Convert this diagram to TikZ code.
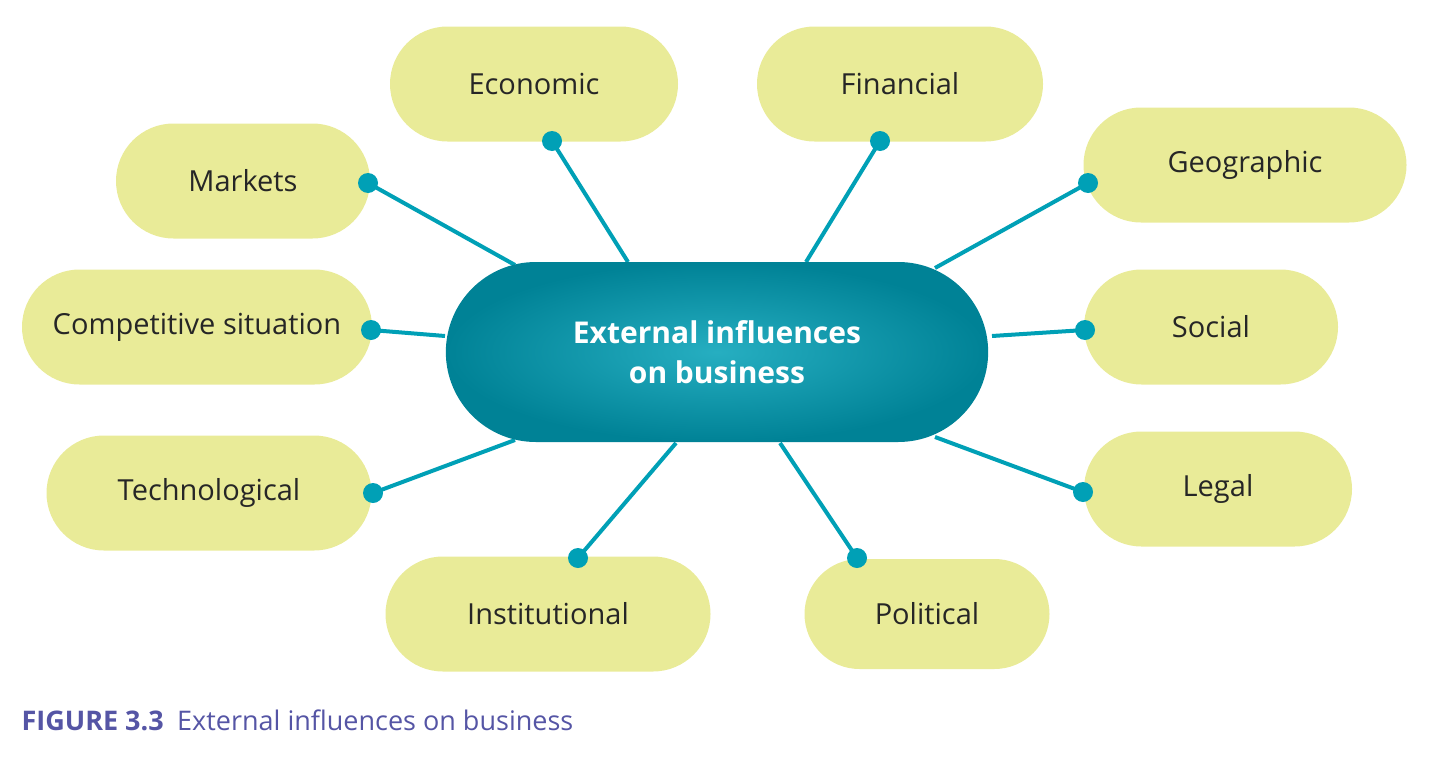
\documentclass[tikz,border=0pt]{standalone}
\usepackage{fontspec}
\setmainfont{Open Sans}
\usetikzlibrary{shapes.misc,backgrounds}
\definecolor{pill}{RGB}{233,235,152}
\definecolor{teal}{RGB}{0,160,182}
\definecolor{tealdark}{RGB}{0,130,150}
\definecolor{cap}{RGB}{85,85,165}
\begin{document}
\begin{tikzpicture}[x=1pt,y=-1pt,
 leaf/.style={rounded rectangle,fill=pill,minimum height=115pt,font=\fontsize{29}{34}\selectfont,text=black!85,inner sep=0pt},
 link/.style={draw=teal,line width=4pt},
 dot/.style={circle,fill=teal,inner sep=0pt,minimum size=20pt}]
\useasboundingbox (0,0) rectangle (1440,771);
\node[rounded rectangle,minimum width=549pt,minimum height=180pt,inner color=teal!85!white,outer color=tealdark,align=center,text=white,font=\fontsize{30}{40}\selectfont\bfseries] (c) at (717,352) {External influences\\on business};
\node[leaf,minimum width=288pt] (eco) at (534,84) {Economic};
\node[leaf,minimum width=286pt] (fin) at (900,84) {Financial};
\node[leaf,minimum width=254pt] (mkt) at (243,181) {Markets};
\node[leaf,minimum width=323pt] (geo) at (1245,165) {Geographic};
\node[leaf,minimum width=350pt] (comp) at (197,327) {Competitive situation};
\node[leaf,minimum width=254pt] (soc) at (1211,327) {Social};
\node[leaf,minimum width=325pt] (tech) at (209,493) {Technological};
\node[leaf,minimum width=268pt] (leg) at (1218,489) {Legal};
\node[leaf,minimum width=325pt] (inst) at (548,614) {Institutional};
\node[leaf,minimum width=245pt,minimum height=110pt] (pol) at (927,614) {Political};
\foreach \n/\x/\y in {d1/552/141,d2/880/141,d3/368/183,d4/1088/183,d5/371/330,d6/1085/330,d7/373/493,d8/1083/492,d9/578/558,d10/857/558}
  \node[dot] (\n) at (\x,\y) {};
\begin{scope}[on background layer]
\foreach \n/\x/\y in {d1/628/262,d2/806/262,d3/515/265,d4/935/268,d5/445/336,d6/992/336,d7/515/440,d8/935/437,d9/676/443,d10/780/443}
  \draw[link] (\n.center) -- (\x,\y);
\end{scope}
\node[anchor=west,text=cap,font=\fontsize{27}{32}\selectfont] (capt) at (18,720) {\textbf{FIGURE 3.3}\hspace{0.5em}External influences on business};
\end{tikzpicture}
\end{document}
